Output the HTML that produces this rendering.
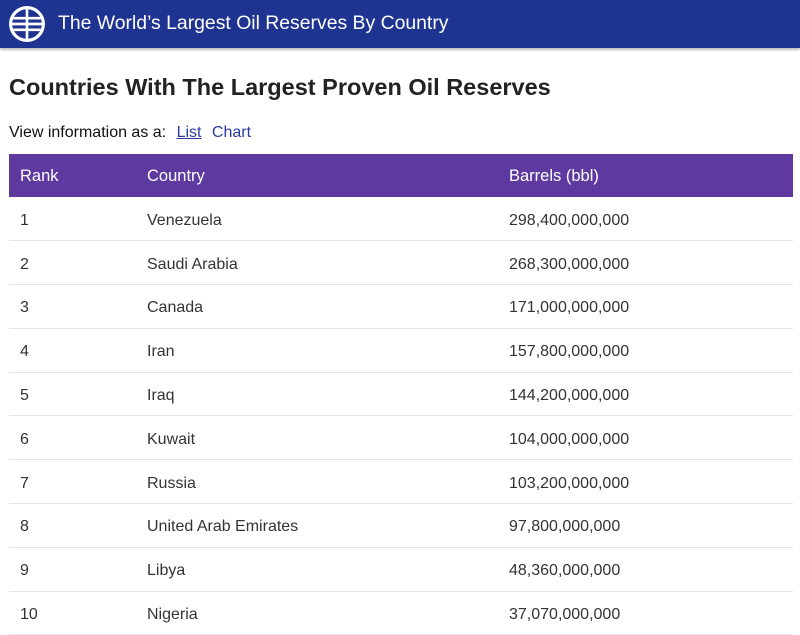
<!DOCTYPE html>
<html><head><meta charset="utf-8"><style>
*{margin:0;padding:0;box-sizing:border-box}
body{width:800px;height:632px;overflow:hidden;background:#fff;font-family:"Liberation Sans",Arial,sans-serif;color:#222;position:relative}
.top{position:absolute;left:0;top:0;width:800px;height:48px;background:#1f3391;box-shadow:0 2px 2px rgba(0,0,0,.25)}
.top h1{position:absolute;left:58px;top:12px;font-size:19.4px;font-weight:normal;color:#fff;white-space:nowrap}
.icon{position:absolute;left:8px;top:5px}
h2{position:absolute;left:9px;top:74px;font-size:23.5px;font-weight:bold;color:#222;white-space:nowrap}
.view{position:absolute;left:9px;top:124px;font-size:16px;color:#111;white-space:nowrap}
.view a{color:#2a3aa0;margin-left:6px}
.view a.c{text-decoration:none}
table{position:absolute;left:9px;top:154px;width:784px;border-collapse:collapse;font-size:16px}
th{background:#5e3aa0;color:#fff;font-weight:normal;text-align:left;height:43px;font-size:16.5px;padding-top:1px}
td{height:43.8px;border-bottom:1px solid #e4e4ee;color:#333;padding-top:4px}
th:nth-child(1),td:nth-child(1){padding-left:11px;width:138px}
th:nth-child(2),td:nth-child(2){width:362px}
</style></head><body>
<div class="top">
<svg class="icon" width="38" height="38" viewBox="0 0 36 36"><circle cx="18" cy="18" r="15.5" fill="none" stroke="#fff" stroke-width="3"/><line x1="18" y1="2" x2="18" y2="34" stroke="#fff" stroke-width="2.5"/><line x1="5" y1="12.5" x2="31" y2="12.5" stroke="#fff" stroke-width="2.5"/><line x1="2" y1="18" x2="34" y2="18" stroke="#fff" stroke-width="2.5"/><line x1="5" y1="23.5" x2="31" y2="23.5" stroke="#fff" stroke-width="2.5"/></svg>
<h1>The World’s Largest Oil Reserves By Country</h1>
</div>
<h2>Countries With The Largest Proven Oil Reserves</h2>
<div class="view">View information as a: <a href="#">List</a> <a href="#" class="c">Chart</a></div>
<table>
<tr><th>Rank</th><th>Country</th><th>Barrels (bbl)</th></tr>
<tr><td>1</td><td>Venezuela</td><td>298,400,000,000</td></tr>
<tr><td>2</td><td>Saudi Arabia</td><td>268,300,000,000</td></tr>
<tr><td>3</td><td>Canada</td><td>171,000,000,000</td></tr>
<tr><td>4</td><td>Iran</td><td>157,800,000,000</td></tr>
<tr><td>5</td><td>Iraq</td><td>144,200,000,000</td></tr>
<tr><td>6</td><td>Kuwait</td><td>104,000,000,000</td></tr>
<tr><td>7</td><td>Russia</td><td>103,200,000,000</td></tr>
<tr><td>8</td><td>United Arab Emirates</td><td>97,800,000,000</td></tr>
<tr><td>9</td><td>Libya</td><td>48,360,000,000</td></tr>
<tr><td>10</td><td>Nigeria</td><td>37,070,000,000</td></tr>
</table>
</body></html>
